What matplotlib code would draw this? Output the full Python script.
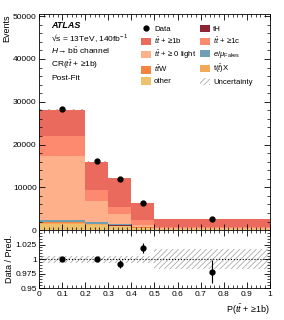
import matplotlib
matplotlib.use("Agg")
import matplotlib.pyplot as plt
from matplotlib.patches import Patch
from matplotlib.lines import Line2D
from matplotlib.ticker import MultipleLocator
import numpy as np

plt.rcParams["font.family"] = ["Liberation Sans", "DejaVu Sans"]
plt.rcParams["mathtext.fontset"] = "custom"
plt.rcParams["mathtext.rm"] = "Liberation Sans"
plt.rcParams["mathtext.it"] = "Liberation Sans:italic"
plt.rcParams["mathtext.bf"] = "Liberation Sans:bold"
plt.rcParams["hatch.linewidth"] = 0.6

# binning and data
edges = [0.0, 0.2, 0.3, 0.4, 0.5, 1.0]
data = [28300, 16100, 12000, 6400, 2500]
data_err = [170, 130, 110, 80, 50]
ratio = [1.000, 1.000, 0.991, 1.019, 0.978]
ratio_err = [0.003, 0.004, 0.007, 0.009, 0.020]
unc_rel = [0.006, 0.006, 0.006, 0.006, 0.017]

# stacked backgrounds, bottom to top
other = [1500, 1150, 850, 500, 150]
ttX = [250, 200, 150, 100, 40]
ttW = [150, 100, 70, 50, 20]
tH = [30, 40, 40, 40, 20]
fakes = [500, 300, 200, 110, 30]
tt_light = [15000, 4960, 2490, 500, 150]
tt_1c = [4660, 2650, 1700, 1000, 300]
tt_1b = [6100, 6600, 6600, 4050, 1850]

c_1b = "#ea6a5e"
c_1c = "#fd8a6e"
c_light = "#fdb08a"
c_ttW = "#f58340"
c_other = "#eec26c"
c_tH = "#8e2535"
c_fakes = "#6e9fb3"
c_ttX = "#f2a95a"

stack = [
    (other, c_other),
    (ttX, c_ttX),
    (ttW, c_ttW),
    (tH, c_tH),
    (fakes, c_fakes),
    (tt_light, c_light),
    (tt_1c, c_1c),
    (tt_1b, c_1b),
]

fig = plt.figure(figsize=(2.84, 3.2), dpi=100)
ax = fig.add_axes([0.139, 0.281, 0.81, 0.675])
axr = fig.add_axes([0.139, 0.100, 0.81, 0.181], sharex=ax)

left = np.array(edges[:-1])
width = np.diff(edges)
centers = left + width / 2
bottom = np.zeros(len(left))
for vals, col in stack:
    ax.bar(left, vals, width=width, bottom=bottom, align="edge", color=col, linewidth=0)
    bottom = bottom + np.array(vals)
total = bottom

# uncertainty on total
unc = total * np.array(unc_rel)
ax.fill_between(edges, np.append(total - unc, total[-1] - unc[-1]),
                np.append(total + unc, total[-1] + unc[-1]), step="post",
                facecolor="none", edgecolor="#999999", hatch="////", linewidth=0)

ax.errorbar(centers, data, yerr=data_err, fmt="o", color="black", ms=3.5, elinewidth=0.8, capsize=0)

ax.set_xlim(0, 1)
ax.set_ylim(0, 50500)
ax.set_ylabel("Events", fontsize=6.5, loc="top", labelpad=1)
ax.yaxis.set_major_locator(MultipleLocator(10000))
ax.yaxis.set_minor_locator(MultipleLocator(2000))
ax.xaxis.set_major_locator(MultipleLocator(0.1))
ax.xaxis.set_minor_locator(MultipleLocator(0.02))
plt.setp(ax.get_xticklabels(), visible=False)

# ratio panel
ratio_lo = np.array([1 - u for u in unc_rel])
ratio_hi = np.array([1 + u for u in unc_rel])
axr.fill_between(edges, np.append(ratio_lo, ratio_lo[-1]), np.append(ratio_hi, ratio_hi[-1]),
                 step="post", facecolor="none", edgecolor="#aaaaaa", hatch="//////", linewidth=0)
axr.axhline(1.0, color="black", linestyle=":", linewidth=0.8)
axr.errorbar(centers, ratio, yerr=ratio_err, fmt="o", color="black", ms=3.5, elinewidth=0.8, capsize=0)
axr.set_ylim(0.95, 1.05)
axr.set_yticks([0.95, 0.975, 1.0, 1.025])
axr.set_yticklabels(["0.95", "0.975", "1", "1.025"])
axr.yaxis.set_minor_locator(MultipleLocator(0.005))
axr.set_ylabel("Data / Pred.", fontsize=6.5, labelpad=1)
axr.set_xticks(np.arange(0, 1.01, 0.1))
axr.set_xticklabels(["0", "0.1", "0.2", "0.3", "0.4", "0.5", "0.6", "0.7", "0.8", "0.9", "1"])
axr.set_xlabel(r"P($t\bar{t}$ + ≥1b)", fontsize=6.5, loc="right", labelpad=3)

for a in (ax, axr):
    a.tick_params(which="both", direction="in", top=True, right=True, labelsize=6, pad=2)
    a.tick_params(which="major", length=4, width=0.6)
    a.tick_params(which="minor", length=2, width=0.5)
    for s in a.spines.values():
        s.set_linewidth(0.6)

# labels
fs = 6
ax.text(0.05, 0.935, "ATLAS", transform=ax.transAxes, fontsize=6.5, fontweight="bold", style="italic")
ax.text(0.05, 0.875, r"√s = 13TeV, 140fb$^{-1}$", transform=ax.transAxes, fontsize=fs)
ax.text(0.05, 0.815, r"$H$→ b$\bar{\mathrm{b}}$ channel", transform=ax.transAxes, fontsize=fs)
ax.text(0.05, 0.755, r"CR($t\bar{t}$ + ≥1b)", transform=ax.transAxes, fontsize=fs)
ax.text(0.05, 0.695, "Post-Fit", transform=ax.transAxes, fontsize=fs)

handles = [
    Line2D([], [], marker="o", color="black", ms=3.5, linestyle="none"),
    Patch(facecolor=c_1b),
    Patch(facecolor=c_light),
    Patch(facecolor=c_ttW),
    Patch(facecolor=c_other),
    Patch(facecolor=c_tH),
    Patch(facecolor=c_1c),
    Patch(facecolor=c_fakes),
    Patch(facecolor=c_ttX),
    Patch(facecolor="none", edgecolor="#aaaaaa", hatch="//////", linewidth=0),
]
labels = [
    "Data",
    r"$t\bar{t}$ + ≥1b",
    r"$t\bar{t}$ + ≥ 0 light",
    r"$t\bar{t}$W",
    "other",
    "tH",
    r"$t\bar{t}$ + ≥1c",
    r"$e/\mu_{\mathrm{Fakes}}$",
    r"t($\bar{t}$)X",
    "Uncertainty",
]
ax.legend(handles, labels, ncol=2, loc="upper left", bbox_to_anchor=(0.44, 0.95),
          bbox_transform=ax.transAxes, frameon=False, fontsize=5.6, handlelength=1.3,
          handleheight=1.1, handletextpad=0.4, columnspacing=0.5, labelspacing=0.34,
          borderpad=0, borderaxespad=0)

fig.savefig("out.png", dpi=100)
